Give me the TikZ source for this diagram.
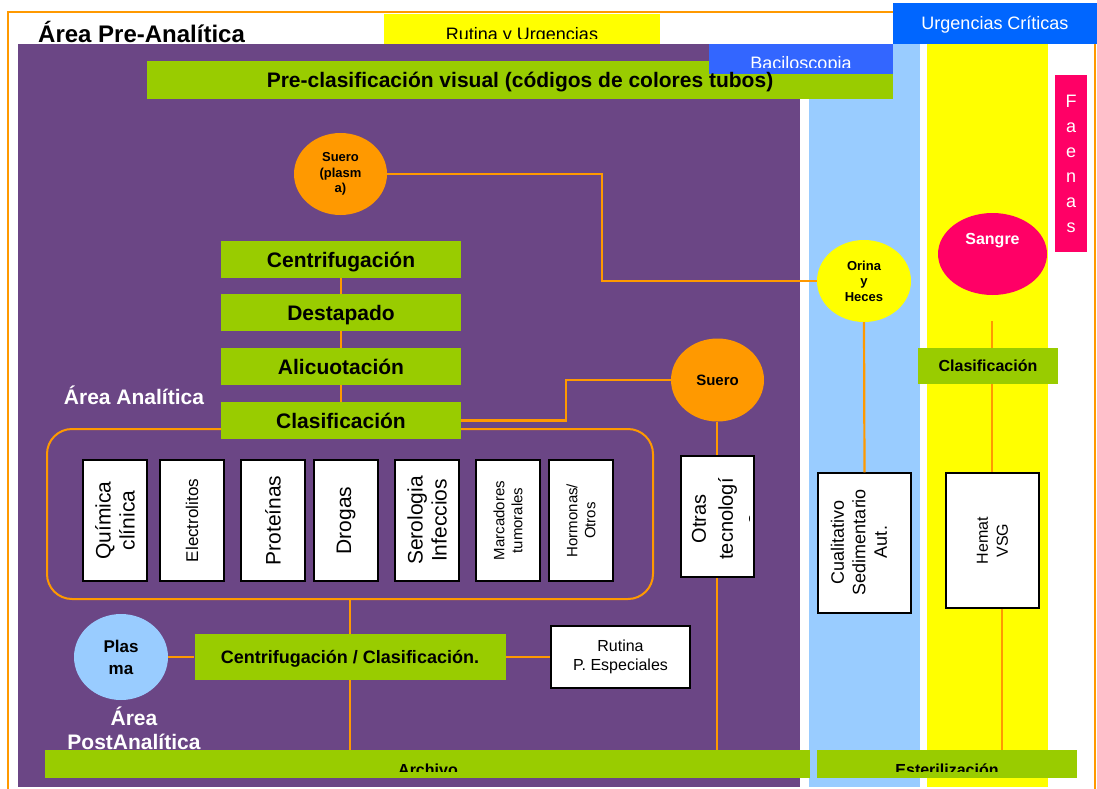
\documentclass[tikz,border=0pt]{standalone}
\usepackage{fontspec}
\setmainfont{Liberation Sans}
\usetikzlibrary{shapes.geometric,calc}
\definecolor{purp}{HTML}{6B4685}
\definecolor{lgreen}{HTML}{99CC00}
\definecolor{orng}{HTML}{FF9900}
\definecolor{lblue}{HTML}{99CCFF}
\definecolor{yel}{HTML}{FFFF00}
\definecolor{pink}{HTML}{FF0066}
\definecolor{blueA}{HTML}{0066FF}
\definecolor{blueB}{HTML}{3366FF}
\newcommand{\fsz}[2]{\fontsize{#1}{#2}\selectfont}
\begin{document}
\begin{tikzpicture}[x=1pt,y=-1pt,
  gbar/.style={fill=lgreen, draw=none, inner sep=0pt, font=\bfseries\fsz{21}{24}, text height=15pt, text depth=0pt},
  catbox/.style={fill=white, draw=black, line width=1.5pt, rotate=90, align=center, inner sep=0pt},
  conn/.style={draw=orng, line width=2.2pt},
  oval/.style={ellipse, inner sep=0pt, align=center, draw=none},
  txt/.style={inner sep=0pt, align=center}]
\useasboundingbox (0,0) rectangle (1097,789);
\fill[white] (0,0) rectangle (1097,789);
% frame
\draw[orng, line width=1.5pt] (8,12) rectangle (1095,800);
% Rutina y Urgencias
\node[fill=yel, minimum width=276pt, minimum height=30pt, inner sep=0pt] (rutbox) at (522,29) {};
\begin{scope}
\clip (384,14) rectangle (660,39);
\node[txt, anchor=base, font=\fsz{18}{21}] (rutt) at (522,41) {Rutina y Urgencias};
\end{scope}
% columns
\fill[purp] (18,44) rectangle (800,787);
\fill[lblue] (809,44) rectangle (920,787);
\fill[yel] (927,44) rectangle (1048,787);
\node[txt, anchor=base west, font=\bfseries\fsz{24}{28}] (tpre) at (38,43) {Área Pre-Analítica};
% Urgencias criticas
\node[fill=blueA, minimum width=204pt, minimum height=41pt, inner sep=0pt, text=white, font=\fsz{18}{21}, text height=13pt, text depth=0pt] (urg) at (995,23.5) {Urgencias Críticas};
% pre-clasificacion
\node[gbar, minimum width=746pt, minimum height=38pt] (precl) at (520,80) {};
% Baciloscopia
\node[fill=blueB, minimum width=184pt, minimum height=30pt, inner sep=0pt] (bacbox) at (801,59) {};
\begin{scope}
\clip (709,44) rectangle (893,68);
\node[txt, anchor=base, text=white, font=\fsz{18}{21}] (bact) at (801,70) {Baciloscopia};
\end{scope}
\node[txt, anchor=base, font=\bfseries\fsz{21}{24}] (preclt) at (520,88) {Pre-clasificación visual (códigos de colores tubos)};
% Faenas
\node[fill=pink, minimum width=32pt, minimum height=177pt, inner sep=0pt] (faen) at (1071,163.5) {};
\node[txt, text=white, font=\fsz{18}{25}] (faent) at (1071,164) {F\\a\\e\\n\\a\\s};
% ovals
\node[oval, fill=orng, minimum width=93pt, minimum height=82pt, font=\bfseries\fsz{13}{15.5}] (supl) at (340.5,174) {Suero\\(plasm\\a)};
\node[oval, fill=yel, minimum width=94pt, minimum height=82pt, font=\bfseries\fsz{13}{15.5}] (orina) at (864,281) {Orina\\y\\Heces};
\node[oval, fill=pink, minimum width=109pt, minimum height=82pt] (sangre) at (992.5,254) {};
\node[txt, text=white, font=\bfseries\fsz{16}{19}] (sangt) at (992.5,241) {Sangre};
\node[oval, fill=orng, minimum width=93pt, minimum height=83pt, font=\bfseries\fsz{15}{18}, text height=11pt, text depth=0pt] (suero) at (717.5,380) {Suero};
\node[oval, fill=lblue, minimum width=94pt, minimum height=86pt, font=\bfseries\fsz{17}{22}] (plasma) at (121,657) {Plas\\ma};
% group rectangle
\node[draw=orng, line width=2pt, rounded corners=25pt, minimum width=606pt, minimum height=170pt, inner sep=0pt] (grp) at (350,514) {};
% stack
\node[gbar, minimum width=240pt, minimum height=37pt] (centr) at (341,259.5) {Centrifugación};
\node[gbar, minimum width=240pt, minimum height=37pt] (destap) at (341,312.5) {Destapado};
\node[gbar, minimum width=240pt, minimum height=37pt] (alic) at (341,366.5) {Alicuotación};
\node[gbar, minimum width=240pt, minimum height=37pt] (clasif) at (341,420.5) {Clasificación};
\node[txt, text=white, font=\bfseries\fsz{21}{24}] (tana) at (134,395) {Área Analítica};
% category boxes
\node[catbox, minimum width=121pt, minimum height=64pt, font=\fsz{21}{24}] (quim) at (115,520.5) {Química\\clínica};
\node[catbox, minimum width=121pt, minimum height=64pt, font=\fsz{17}{20}] (elec) at (192,520.5) {Electrolitos};
\node[catbox, minimum width=121pt, minimum height=64pt, font=\fsz{21}{24}] (prot) at (273,520.5) {Proteínas};
\node[catbox, minimum width=121pt, minimum height=64pt, font=\fsz{21}{24}] (drog) at (346,520.5) {Drogas};
\node[catbox, minimum width=121pt, minimum height=64pt, font=\fsz{21}{24}] (sero) at (427,520.5) {Serologia\\Infeccios};
\node[catbox, minimum width=121pt, minimum height=64pt, font=\fsz{15}{18}] (marc) at (508,520.5) {Marcadores\\tumorales};
\node[catbox, minimum width=121pt, minimum height=64pt, font=\fsz{15}{18}] (horm) at (581,520.5) {Hormonas/\\Otros};
% otras
\node[catbox, minimum width=121pt, minimum height=73pt] (otras) at (717.5,516.5) {};
\begin{scope}
\clip (683,458) rectangle (749,575);
\node[txt, rotate=90, font=\fsz{20}{27}] (otrast) at (726,519) {Otras\\tecnologí\\a};
\end{scope}
% right column boxes
\node[catbox, minimum width=140pt, minimum height=93pt] (cual) at (864.5,543) {};
\node[txt, rotate=90, font=\fsz{18}{21.5}] (cualt) at (859,542) {Cualitativo\\Sedimentario\\Aut.};
\node[catbox, minimum width=135pt, minimum height=93pt, font=\fsz{16}{20}] (hemat) at (992.5,540.5) {Hemat\\VSG};
\node[gbar, minimum width=140pt, minimum height=36pt, font=\bfseries\fsz{16}{19}, text height=11.5pt] (clas2) at (988,366) {Clasificación};
% post analytic
\node[gbar, minimum width=311pt, minimum height=46pt, font=\bfseries\fsz{18}{21}, text height=13pt] (ccbar) at (350,657) {Centrifugación / Clasificación.};
\node[fill=white, draw=black, line width=1.5pt, minimum width=139pt, minimum height=62pt, inner sep=0pt, align=center, font=\fsz{16}{19}] (rutina) at (620.5,657) {Rutina\\P. Especiales};
\node[txt, text=white, font=\bfseries\fsz{21}{24}] (tpost) at (134,728) {Área\\PostAnalítica};
% bottom bars
\node[gbar, minimum width=765pt, minimum height=28pt] (archivo) at (427.5,764) {};
\begin{scope}
\clip (45,750) rectangle (810,771);
\node[txt, anchor=base, font=\bfseries\fsz{16}{19}] (archt) at (428,775) {Archivo};
\end{scope}
\node[gbar, minimum width=260pt, minimum height=28pt] (ester) at (947,764) {};
\begin{scope}
\clip (817,750) rectangle (1077,771);
\node[txt, anchor=base, font=\bfseries\fsz{16}{19}] (estt) at (947,775) {Esterilización};
\end{scope}
% connectors
\coordinate (k1) at (602,281);
\coordinate (k2) at (566,420.5);
\coordinate (s1) at (992,321);
\coordinate (ox) at (717,0);
\draw[conn] (centr.south) -- (destap.north);
\draw[conn] (destap.south) -- (alic.north);
\draw[conn] (alic.south) -- (clasif.north);
\draw[conn] (supl.east) -| (k1) -- (orina.west);
\draw[conn] (suero.west) -| (k2) -- (clasif.east);
\draw[conn] (suero.south -| ox) -- (otras.east -| ox);
\draw[conn] (otras.west -| ox) -- (ox |- archivo.north);
\draw[conn] (orina.south) -- (cual.east);
\draw[conn] (s1) -- (s1 |- clas2.north);
\draw[conn] (clas2.south -| s1) -- (hemat.east -| s1);
\draw[conn] ([xshift=9.5pt]hemat.west) -- ([xshift=9.5pt]hemat.west |- ester.north);
\draw[conn] (grp.south) -- (ccbar.north);
\draw[conn] (ccbar.south) -- (ccbar.south |- archivo.north);
\draw[conn] (plasma.east) -- (ccbar.west);
\draw[conn] (ccbar.east) -- (rutina.west);
\end{tikzpicture}
\end{document}
